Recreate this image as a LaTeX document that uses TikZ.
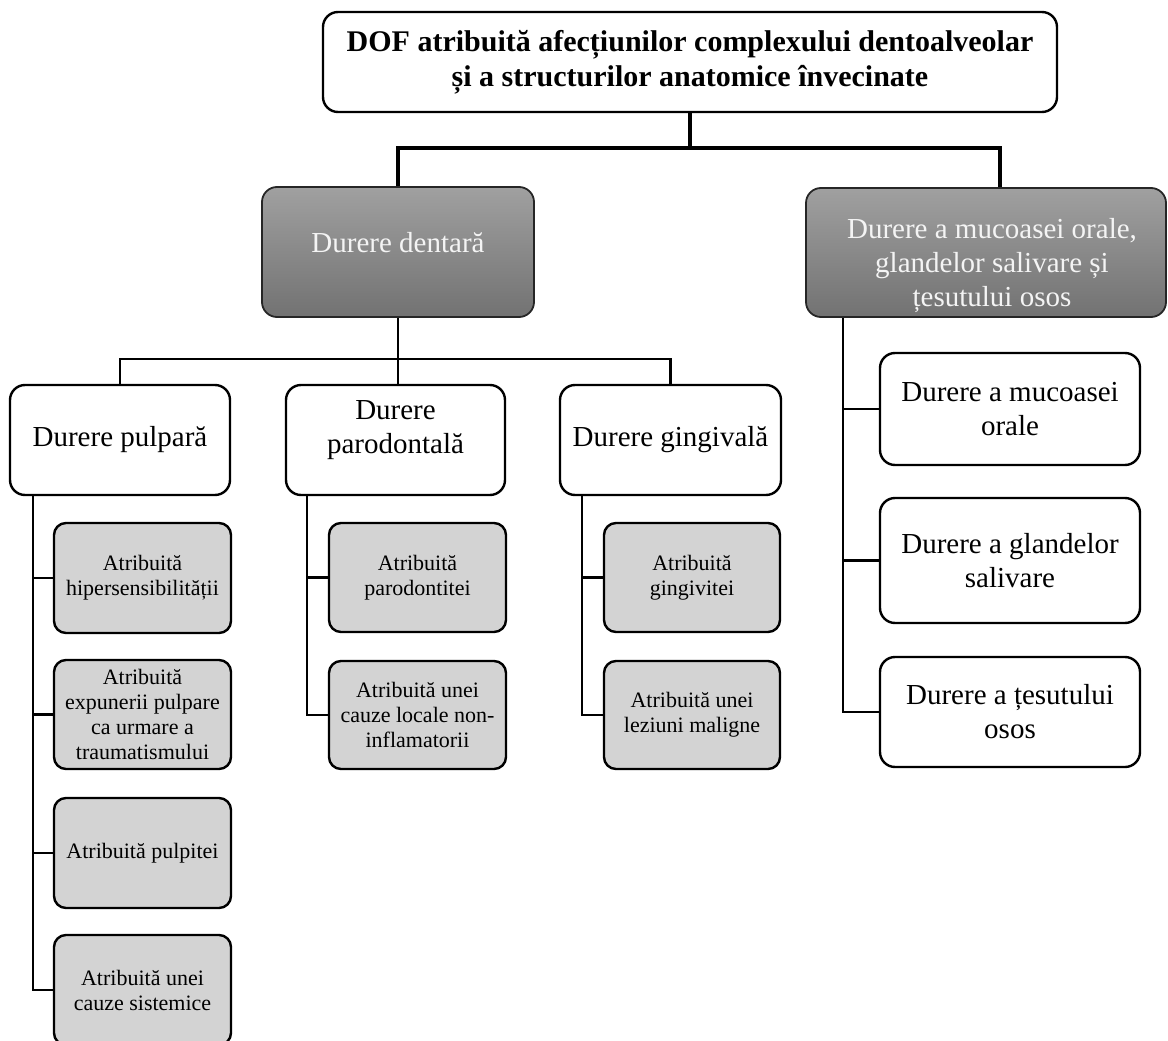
\documentclass[tikz,border=0pt]{standalone}
\usepackage{fontspec}
\setmainfont{Liberation Serif}
\usetikzlibrary{calc}
\definecolor{hdtop}{HTML}{A0A0A0}
\definecolor{hdbot}{HTML}{727272}
\definecolor{leaf}{HTML}{D3D3D3}
\definecolor{hdtext}{HTML}{F4F4F4}
\begin{document}
\begin{tikzpicture}[x=1pt,y=-1pt,
  bigfont/.style={font=\fontsize{29}{34}\selectfont},
  smallfont/.style={font=\fontsize{22}{25}\selectfont},
  whitebox/.style={draw=black, line width=2.4pt, rounded corners=15pt, fill=white,
    align=center, inner sep=3pt, bigfont},
  headbox/.style={draw=black!85, line width=1.8pt, rounded corners=15pt,
    top color=hdtop, bottom color=hdbot, text=hdtext,
    align=center, inner sep=3pt, bigfont},
  headtext/.style={text=hdtext, align=center, inner sep=0pt, bigfont},
  plaintext/.style={align=center, inner sep=0pt, bigfont},
  leafbox/.style={draw=black, line width=2.4pt, rounded corners=12pt, fill=leaf,
    align=center, inner sep=3pt, smallfont,
    minimum width=177pt, minimum height=110pt},
  subbox/.style={whitebox, minimum width=220pt, minimum height=110pt},
  sidebox/.style={whitebox, minimum width=260pt},
  mainbus/.style={line width=3.2pt},
  bus/.style={line width=2.2pt},
  trunk/.style={line width=2.8pt}
]
\useasboundingbox (0,0) rectangle (1168,1041);
\clip (0,0) rectangle (1168,1041);

% root
\node[whitebox, minimum width=734pt, minimum height=100pt, font=\fontsize{30}{35}\selectfont\bfseries]
  (root) at (690,62) {DOF atribuită afecțiunilor complexului dentoalveolar\\și a structurilor anatomice învecinate};

% first level (shaded boxes, captions placed separately)
\node[headbox, minimum width=272pt, minimum height=130pt] (dent) at (398,252) {};
\node[headtext] (dentT) at (398,243) {Durere dentară};
\node[headbox, minimum width=360pt, minimum height=129pt] (muc) at (986,252.5) {};
\node[headtext] (mucT) at (992,266) {Durere a mucoasei orale,\\glandelor salivare și\\țesutului osos};

% second level under "Durere dentară"
\node[subbox] (pulp) at (120,440) {Durere pulpară};
\node[subbox, minimum width=219pt] (paro) at (395.5,440) {};
\node[plaintext] (paroT) at (395.5,430) {Durere\\parodontală};
\node[subbox, minimum width=221pt] (ging) at (670.5,440) {Durere gingivală};

% leaves of "Durere pulpară"
\node[leafbox] (p1) at (142.5,578) {Atribuită\\hipersensibilității};
\node[leafbox, minimum height=109pt] (p2) at (142.5,714.5) {Atribuită\\expunerii pulpare\\ca urmare a\\traumatismului};
\node[leafbox] (p3) at (142.5,853) {Atribuită pulpitei};
\node[leafbox] (p4) at (142.5,990) {Atribuită unei\\cauze sistemice};

% leaves of "Durere parodontală"
\node[leafbox, minimum height=109pt] (d1) at (417.5,577.5) {Atribuită\\parodontitei};
\node[leafbox, minimum height=108pt] (d2) at (417.5,715) {Atribuită unei\\cauze locale non-\\inflamatorii};

% leaves of "Durere gingivală"
\node[leafbox, minimum width=176pt, minimum height=109pt] (g1) at (692,577.5) {Atribuită\\gingivitei};
\node[leafbox, minimum width=176pt, minimum height=108pt] (g2) at (692,715) {Atribuită unei\\leziuni maligne};

% children of the oral mucosa box
\node[sidebox, minimum height=112pt] (m1) at (1010,409) {Durere a mucoasei\\orale};
\node[sidebox, minimum height=125pt] (m2) at (1010,560.5) {Durere a glandelor\\salivare};
\node[sidebox, minimum height=110pt] (m3) at (1010,712) {Durere a țesutului\\osos};

% root to first level
\coordinate (rj) at (root.south |- 0,148);
\coordinate (jl) at (dent.north |- rj);
\coordinate (jr) at (1000,148);
\draw[mainbus] (root.south) -- (rj);
\draw[mainbus] (jl |- dent.north) -- (jl) -- (jr) -- (jr |- muc.north);

% "Durere dentară" to second level
\coordinate (dj) at (dent.south |- 0,359);
\draw[bus] (dent.south) -- (dj);
\draw[bus] (pulp.north) -- (pulp.north |- dj) -- (ging.north |- dj) -- (ging.north);
\draw[bus] (dj) -- (dj |- paro.north);

% trunks to the leaves
\coordinate (tp) at (33,0);
\coordinate (td) at (307,0);
\coordinate (tg) at (582,0);
\coordinate (tm) at (843,0);
\draw[trunk] (tp |- pulp.south) |- (p4.west);
\foreach \n in {p1,p2,p3} \draw[trunk] (tp |- \n.west) -- (\n.west);
\draw[trunk] (td |- paro.south) |- (d2.west);
\draw[trunk] (td |- d1.west) -- (d1.west);
\draw[trunk] (tg |- ging.south) |- (g2.west);
\draw[trunk] (tg |- g1.west) -- (g1.west);
\draw[trunk] (tm |- muc.south) |- (m3.west);
\foreach \n in {m1,m2} \draw[trunk] (tm |- \n.west) -- (\n.west);
\end{tikzpicture}
\end{document}
